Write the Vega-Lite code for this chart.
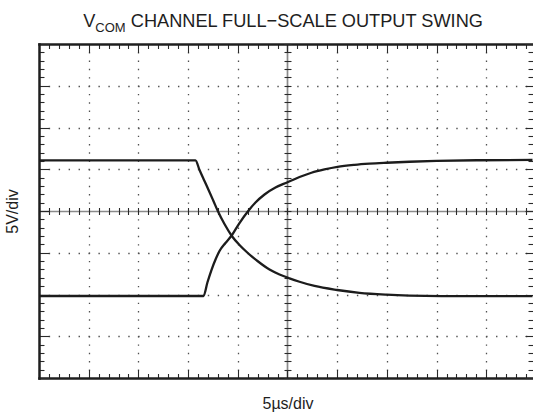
{
  "$schema": "https://vega.github.io/schema/vega-lite/v6.json",
  "width": 493.5,
  "height": 334,
  "autosize": {"type": "none"},
  "padding": {"left": 39, "top": 44, "right": 0, "bottom": 37},
  "background": "white",
  "config": {"view": {"stroke": null}, "font": "Liberation Sans"},
  "datasets": {
    "traces": [
      {"series": "falling", "t": 0, "v": 6.07},
      {"series": "falling", "t": 15.74, "v": 6.07},
      {"series": "falling", "t": 16.15, "v": 4.91},
      {"series": "falling", "t": 16.65, "v": 3.59},
      {"series": "falling", "t": 17.15, "v": 2.28},
      {"series": "falling", "t": 17.55, "v": 1.2},
      {"series": "falling", "t": 17.99, "v": 0.0},
      {"series": "falling", "t": 18.66, "v": -1.56},
      {"series": "falling", "t": 19.4, "v": -2.99},
      {"series": "falling", "t": 20.17, "v": -4.07},
      {"series": "falling", "t": 20.98, "v": -5.0},
      {"series": "falling", "t": 21.98, "v": -5.99},
      {"series": "falling", "t": 23.19, "v": -7.01},
      {"series": "falling", "t": 24.2, "v": -7.6},
      {"series": "falling", "t": 25.2, "v": -8.06},
      {"series": "falling", "t": 26.21, "v": -8.47},
      {"series": "falling", "t": 27.72, "v": -8.98},
      {"series": "falling", "t": 30.0, "v": -9.46},
      {"series": "falling", "t": 32.24, "v": -9.8},
      {"series": "falling", "t": 34.96, "v": -10.02},
      {"series": "falling", "t": 37.27, "v": -10.13},
      {"series": "falling", "t": 40.5, "v": -10.19},
      {"series": "falling", "t": 49.65, "v": -10.2},
      {"series": "rising", "t": 0, "v": -10.18},
      {"series": "rising", "t": 16.55, "v": -10.18},
      {"series": "rising", "t": 16.95, "v": -8.53},
      {"series": "rising", "t": 17.35, "v": -7.07},
      {"series": "rising", "t": 17.76, "v": -5.81},
      {"series": "rising", "t": 18.16, "v": -4.79},
      {"series": "rising", "t": 18.76, "v": -3.83},
      {"series": "rising", "t": 19.42, "v": -2.87},
      {"series": "rising", "t": 20.17, "v": -1.44},
      {"series": "rising", "t": 21.01, "v": -0.06},
      {"series": "rising", "t": 21.78, "v": 1.02},
      {"series": "rising", "t": 22.69, "v": 1.98},
      {"series": "rising", "t": 23.79, "v": 2.81},
      {"series": "rising", "t": 25.0, "v": 3.44},
      {"series": "rising", "t": 26.21, "v": 4.07},
      {"series": "rising", "t": 27.41, "v": 4.58},
      {"series": "rising", "t": 28.72, "v": 4.98},
      {"series": "rising", "t": 30.03, "v": 5.29},
      {"series": "rising", "t": 31.74, "v": 5.53},
      {"series": "rising", "t": 33.25, "v": 5.67},
      {"series": "rising", "t": 34.96, "v": 5.78},
      {"series": "rising", "t": 37.27, "v": 5.9},
      {"series": "rising", "t": 39.99, "v": 6.0},
      {"series": "rising", "t": 44.32, "v": 6.08},
      {"series": "rising", "t": 49.65, "v": 6.12}
    ],
    "titleBig": [
      {"label": "V", "t": 4.45, "v": 22.01},
      {"label": "CHANNEL FULL−SCALE OUTPUT SWING", "t": 9.23, "v": 22.01}
    ],
    "titleSub": [
      {"label": "COM", "t": 5.66, "v": 21.44}
    ]
  },
  "resolve": {"axis": {"x": "independent", "y": "independent"}},
  "layer": [
    {
      "data": {"name": "traces"},
      "mark": {"type": "line", "interpolate": "monotone", "color": "#1c1c1c", "strokeWidth": 2.3},
      "encoding": {
        "x": {
          "field": "t", "type": "quantitative",
          "scale": {"domain": [0, 49.65], "nice": false, "zero": false},
          "axis": {
            "orient": "bottom", "zindex": 0,
            "values": [0,1,2,3,4,5,6,7,8,9,10,11,12,13,14,15,16,17,18,19,20,21,22,23,24,25,26,27,28,29,30,31,32,33,34,35,36,37,38,39,40,41,42,43,44,45,46,47,48,49],
            "domain": true, "domainColor": "#1e1e1e", "domainWidth": 2.5, "domainCap": "square",
            "ticks": true, "tickColor": "#2a2a2a", "tickWidth": 1.1,
            "tickSize": {"condition": {"test": "datum.value % 5 === 0", "value": -8.5}, "value": -4.5},
            "labels": false,
            "grid": true,
            "gridColor": {"condition": {"test": "datum.value === 25", "value": "#8a8a8a"}, "value": "#505050"},
            "gridWidth": {"condition": {"test": "datum.value === 25", "value": 1.7}, "value": 1.3},
            "gridDash": {"condition": {"test": "datum.value === 25", "value": [1, 0]}, "value": [1.4, 6.95]},
            "gridDashOffset": 0.7,
            "gridOpacity": {"condition": {"test": "datum.value % 5 === 0 && datum.value > 0", "value": 1}, "value": 0},
            "title": "5µs/div", "titleFont": "Liberation Sans", "titleFontSize": 16, "titleFontWeight": "normal",
            "titleColor": "#1e1e1e", "titleX": 248.5, "titleY": 30, "titleBaseline": "alphabetic", "titleAlign": "center"
          }
        },
        "y": {
          "field": "v", "type": "quantitative",
          "scale": {"domain": [-20, 20], "nice": false, "zero": false},
          "axis": {
            "orient": "left", "zindex": 0,
            "values": [-20,-19,-18,-17,-16,-15,-14,-13,-12,-11,-10,-9,-8,-7,-6,-5,-4,-3,-2,-1,0,1,2,3,4,5,6,7,8,9,10,11,12,13,14,15,16,17,18,19,20],
            "domain": true, "domainColor": "#1e1e1e", "domainWidth": 2.5, "domainCap": "square",
            "ticks": true, "tickColor": "#2a2a2a", "tickWidth": 1.1,
            "tickSize": {"condition": {"test": "datum.value % 5 === 0", "value": -10}, "value": -5},
            "labels": false,
            "grid": true,
            "gridColor": {"condition": {"test": "datum.value === 0", "value": "#8a8a8a"}, "value": "#505050"},
            "gridWidth": {"condition": {"test": "datum.value === 0", "value": 1.7}, "value": 1.3},
            "gridDash": {"condition": {"test": "datum.value === 0", "value": [1, 0]}, "value": [1.4, 8.54]},
            "gridDashOffset": 0.7,
            "gridOpacity": {"condition": {"test": "datum.value % 5 === 0 && datum.value > -20 && datum.value < 20", "value": 1}, "value": 0},
            "title": "5V/div", "titleFont": "Liberation Sans", "titleFontSize": 16, "titleFontWeight": "normal",
            "titleColor": "#1e1e1e", "titleAngle": -90, "titleX": -22, "titleY": 167, "titleBaseline": "alphabetic", "titleAlign": "center"
          }
        },
        "detail": {"field": "series"}
      }
    },
    {
      "data": {"name": "titleBig"},
      "mark": {"type": "text", "align": "left", "baseline": "alphabetic", "font": "Liberation Sans", "fontSize": 18.2, "color": "#1e1e1e"},
      "encoding": {
        "x": {
          "field": "t", "type": "quantitative",
          "scale": {"domain": [0, 49.65], "nice": false, "zero": false},
          "axis": {
            "orient": "top", "zindex": 0,
            "values": [0,1,2,3,4,5,6,7,8,9,10,11,12,13,14,15,16,17,18,19,20,21,22,23,24,25,26,27,28,29,30,31,32,33,34,35,36,37,38,39,40,41,42,43,44,45,46,47,48,49],
            "domain": true, "domainColor": "#1e1e1e", "domainWidth": 2.5, "domainCap": "square",
            "ticks": true, "tickColor": "#2a2a2a", "tickWidth": 1.1,
            "tickSize": {"condition": {"test": "datum.value % 5 === 0", "value": -8.5}, "value": -4.5},
            "labels": false, "grid": false, "title": null
          }
        },
        "y": {
          "field": "v", "type": "quantitative",
          "scale": {"domain": [-20, 20], "nice": false, "zero": false},
          "axis": {
            "orient": "right", "offset": 3.5, "zindex": 0,
            "values": [-20,-19,-18,-17,-16,-15,-14,-13,-12,-11,-10,-9,-8,-7,-6,-5,-4,-3,-2,-1,0,1,2,3,4,5,6,7,8,9,10,11,12,13,14,15,16,17,18,19,20],
            "domain": false,
            "ticks": true, "tickColor": "#2a2a2a", "tickWidth": 1.1,
            "tickSize": {"condition": {"test": "datum.value % 5 === 0", "value": -11}, "value": -8},
            "labels": false, "grid": false, "title": null
          }
        },
        "text": {"field": "label"}
      }
    },
    {
      "data": {"name": "titleSub"},
      "mark": {"type": "text", "align": "left", "baseline": "alphabetic", "font": "Liberation Sans", "fontSize": 13, "color": "#1e1e1e"},
      "encoding": {
        "x": {
          "field": "t", "type": "quantitative",
          "scale": {"domain": [0, 49.65], "nice": false, "zero": false},
          "axis": {
            "orient": "bottom", "offset": -170.5, "zindex": 0,
            "values": [0,1,2,3,4,5,6,7,8,9,10,11,12,13,14,15,16,17,18,19,20,21,22,23,24,25,26,27,28,29,30,31,32,33,34,35,36,37,38,39,40,41,42,43,44,45,46,47,48,49],
            "domain": false,
            "ticks": true, "tickColor": "#2a2a2a", "tickWidth": 1.1, "tickSize": 7,
            "labels": false, "grid": false, "title": null
          }
        },
        "y": {
          "field": "v", "type": "quantitative",
          "scale": {"domain": [-20, 20], "nice": false, "zero": false},
          "axis": {
            "orient": "left", "offset": -252, "zindex": 0,
            "values": [-20,-19,-18,-17,-16,-15,-14,-13,-12,-11,-10,-9,-8,-7,-6,-5,-4,-3,-2,-1,0,1,2,3,4,5,6,7,8,9,10,11,12,13,14,15,16,17,18,19,20],
            "domain": false,
            "ticks": true, "tickColor": "#2a2a2a", "tickWidth": 1.1, "tickSize": 7,
            "labels": false, "grid": false, "title": null
          }
        },
        "text": {"field": "label"}
      }
    }
  ]
}
